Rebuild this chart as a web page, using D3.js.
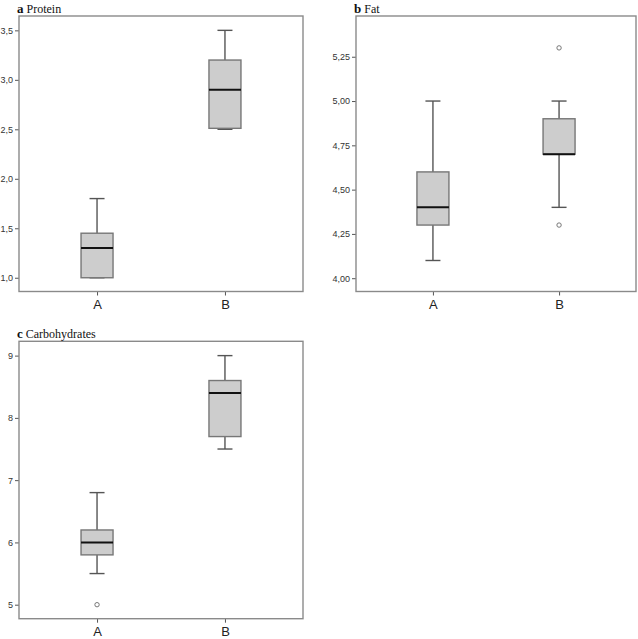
<!DOCTYPE html>
<html>
<head>
<meta charset="utf-8">
<script src="https://cdn.jsdelivr.net/npm/d3@7"></script>
<style>
  body { margin: 0; background: #fff; }
  svg { display: block; }
  .tick text { font-family: "Liberation Sans", Arial, sans-serif; }
</style>
</head>
<body>
<svg id="chart" width="638" height="639"></svg>
<script>
// Data
var groups = ["A", "B"];

// five number summaries: [min, q1, median, q3, max]
var proteinStats = [[1.0, 1.0, 1.3, 1.45, 1.8], [2.5, 2.51, 2.9, 3.2, 3.5]];
var proteinOutliers = [[], []];
var proteinTicks = [1.0, 1.5, 2.0, 2.5, 3.0, 3.5];

var fatStats = [[4.1, 4.3, 4.4, 4.6, 5.0], [4.4, 4.7, 4.7, 4.9, 5.0]];
var fatOutliers = [[], [5.3, 4.3]];
var fatTicks = [4.0, 4.25, 4.5, 4.75, 5.0, 5.25];

var carbStats = [[5.5, 5.8, 6.0, 6.2, 6.8], [7.5, 7.7, 8.4, 8.6, 9.0]];
var carbOutliers = [[5.0], []];
var carbTicks = [5, 6, 7, 8, 9];

var svg = d3.select("#chart");

// draw one boxplot panel
function panel(opt) {
  var w = opt.right - opt.left, h = opt.bottom - opt.top;
  var g = svg.append("g").attr("transform", "translate(" + opt.left + "," + opt.top + ")");

  var x = d3.scalePoint().domain(groups).range([0, w]).padding(0.61);
  var y = d3.scaleLinear().domain(opt.domain).range([h, 0]);

  // y axis
  var yAxis = d3.axisLeft(y).tickValues(opt.ticks).tickSize(4).tickPadding(2)
    .tickFormat(function(d) { return d3.format(opt.fmt)(d).replace(".", ","); });
  var ya = g.append("g").call(yAxis);
  ya.select(".domain").remove();
  ya.selectAll(".tick line").attr("stroke", "#555");
  ya.selectAll(".tick text").attr("fill", "#333").style("font-size", "9px");

  // x axis
  var xAxis = d3.axisBottom(x).tickSize(4).tickPadding(4);
  var xa = g.append("g").attr("transform", "translate(0," + h + ")").call(xAxis);
  xa.select(".domain").remove();
  xa.selectAll(".tick line").attr("stroke", "#555");
  xa.selectAll(".tick text").attr("fill", "#222").style("font-size", "13px");

  // frame
  g.append("rect").attr("width", w).attr("height", h)
    .attr("fill", "none").attr("stroke", "#8a8a8a").attr("stroke-width", 1.4);

  var bw = 32, cw = 15;
  groups.forEach(function(k, i) {
    var s = opt.stats[i], cx = x(k);
    var wcol = "#555";
    // whiskers
    g.append("line").attr("x1", cx).attr("x2", cx).attr("y1", y(s[3])).attr("y2", y(s[4]))
      .attr("stroke", wcol).attr("stroke-width", 1.4);
    g.append("line").attr("x1", cx).attr("x2", cx).attr("y1", y(s[1])).attr("y2", y(s[0]))
      .attr("stroke", wcol).attr("stroke-width", 1.4);
    g.append("line").attr("x1", cx - cw / 2).attr("x2", cx + cw / 2).attr("y1", y(s[4])).attr("y2", y(s[4]))
      .attr("stroke", wcol).attr("stroke-width", 1.4);
    g.append("line").attr("x1", cx - cw / 2).attr("x2", cx + cw / 2).attr("y1", y(s[0])).attr("y2", y(s[0]))
      .attr("stroke", wcol).attr("stroke-width", 1.4);
    // box
    g.append("rect").attr("x", cx - bw / 2).attr("width", bw)
      .attr("y", y(s[3])).attr("height", y(s[1]) - y(s[3]))
      .attr("fill", "#cdcdcd").attr("stroke", "#777").attr("stroke-width", 1.4);
    // median
    g.append("line").attr("x1", cx - bw / 2).attr("x2", cx + bw / 2).attr("y1", y(s[2])).attr("y2", y(s[2]))
      .attr("stroke", "#111").attr("stroke-width", 2);
    // outliers
    opt.outliers[i].forEach(function(v) {
      g.append("circle").attr("cx", cx).attr("cy", y(v)).attr("r", 2.2)
        .attr("fill", "#fff").attr("stroke", "#777").attr("stroke-width", 1);
    });
  });

  // title
  var t = svg.append("text").attr("x", opt.left - 2).attr("y", opt.top - 3.5)
    .style("font-family", "'Liberation Serif', 'Times New Roman', serif").style("font-size", "12px").attr("fill", "#111");
  t.append("tspan").text(opt.letter).style("font-weight", "bold").style("font-size", "13px");
  t.append("tspan").text(" " + opt.title);
}

panel({ left: 19, top: 16, right: 303, bottom: 291.5, domain: [0.861, 3.645],
  ticks: proteinTicks, fmt: ".1f", stats: proteinStats, outliers: proteinOutliers, letter: "a", title: "Protein" });
panel({ left: 356, top: 16, right: 636, bottom: 291.5, domain: [3.925, 5.48],
  ticks: fatTicks, fmt: ".2f", stats: fatStats, outliers: fatOutliers, letter: "b", title: "Fat" });
panel({ left: 19, top: 341.3, right: 303, bottom: 618.7, domain: [4.775, 9.23],
  ticks: carbTicks, fmt: "d", stats: carbStats, outliers: carbOutliers, letter: "c", title: "Carbohydrates" });
</script>
</body>
</html>
